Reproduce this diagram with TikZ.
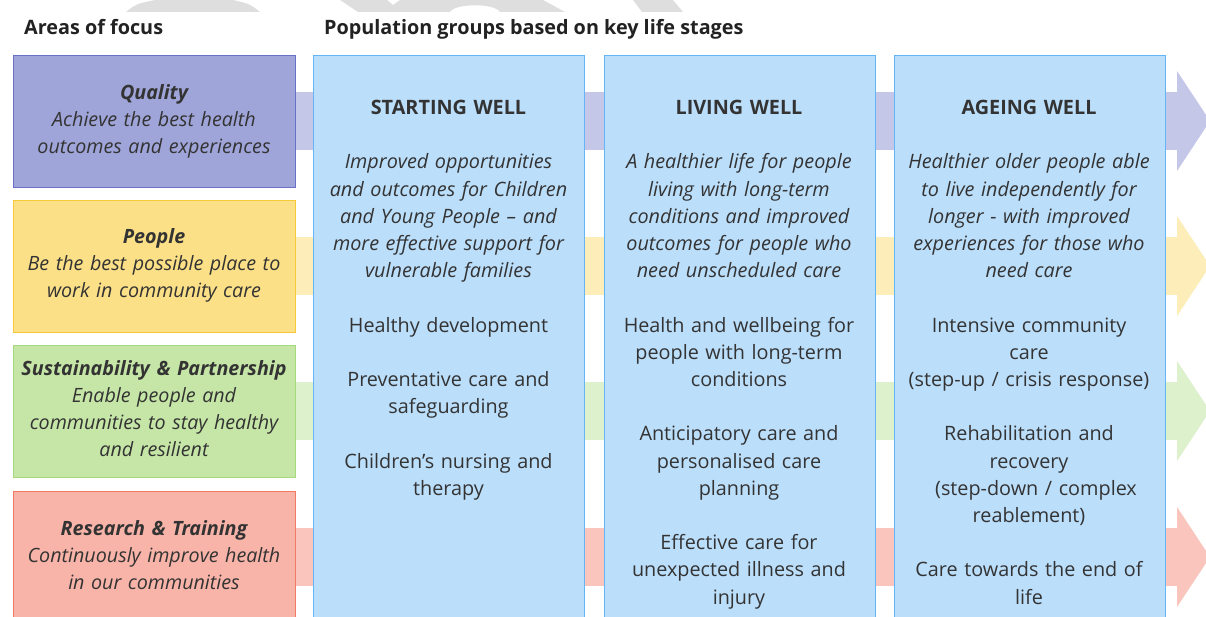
\documentclass[tikz,border=0pt]{standalone}
\usepackage{fontspec}
\setmainfont{Open Sans}
\usetikzlibrary{positioning}

\definecolor{inkdark}{HTML}{222222}
\definecolor{inkbody}{HTML}{333333}
\definecolor{wmgrey}{HTML}{DEDEDE}
\definecolor{stagefill}{HTML}{BBDEFB}
\definecolor{stageline}{HTML}{64B5F6}
% areas of focus: box fill, box border, band behind the columns
\definecolor{qualfill}{HTML}{9FA5D8}
\definecolor{qualline}{HTML}{6A70C8}
\definecolor{qualband}{HTML}{C5C7E8}
\definecolor{peopfill}{HTML}{FBE087}
\definecolor{peopline}{HTML}{F8C937}
\definecolor{peopband}{HTML}{FDEDB8}
\definecolor{sustfill}{HTML}{C6E6A7}
\definecolor{sustline}{HTML}{A4D97E}
\definecolor{sustband}{HTML}{DDF1CD}
\definecolor{resfill}{HTML}{F8B4A8}
\definecolor{resline}{HTML}{F27A62}
\definecolor{resband}{HTML}{F9C5BC}

\begin{document}
\begin{tikzpicture}[x=1pt, y=-1pt,
  focus/.style={draw, line width=1.2pt, anchor=north west, minimum width=282pt, minimum height=132pt, inner sep=0pt},
  stage/.style={draw=stageline, fill=stagefill, line width=1.3pt, anchor=north west, minimum width=271pt, minimum height=600pt, inner sep=0pt},
  head/.style={font=\fontsize{19.8}{22}\selectfont\bfseries, text=inkdark, anchor=base west, inner sep=0pt},
  focustext/.style={text width=280pt, align=center, anchor=base, inner sep=0pt, text=inkbody, font=\fontsize{19.7}{27}\selectfont\itshape},
  stagetext/.style={text width=264pt, align=center, anchor=base, inner sep=0pt, text=inkbody, font=\fontsize{19.8}{27.2}\selectfont}]

\clip (0,0) rectangle (1206,617);
\fill[white] (0,0) rectangle (1206,617);

% --- watermark remains along the top edge ---
\fill[wmgrey] (126,12) .. controls (136,4) .. (155,0) -- (233,0) .. controls (250,4) .. (260,12) -- cycle;
\fill[wmgrey] (340,0) -- (387,0) -- (393,5) -- (400,0) -- (543,0) -- (565,12) -- (500,12)
  .. controls (495,3) and (455,3) .. (450,12) -- (358,12) -- cycle;
\fill[wmgrey] (633,0) -- (673,0) -- (683,12) -- (642,12) -- cycle;

% --- bands with arrow heads, one per area of focus ---
\foreach \y/\c in {121/qualband, 266/peopband, 411/sustband, 557/resband}{
  \fill[\c] (290,\y-29) rectangle (1178,\y+29);
  \fill[\c] (1177,\y-50) -- (1210,\y) -- (1177,\y+50) -- cycle;
}

% --- headings ---
\node[head] (areas)  at (24,35)  {Areas of focus};
\node[head] (groups) at (324,35) {Population groups based on key life stages};

% --- areas of focus ---
\node[focus, draw=qualline, fill=qualfill] (quality)  at (13,55)    {};
\node[focus, draw=peopline, fill=peopfill] (people)   at (13,200)   {};
\node[focus, draw=sustline, fill=sustfill] (sustain)  at (13,344.5) {};
\node[focus, draw=resline,  fill=resfill]  (research) at (13,491)   {};

\node[focustext] (quality-txt)  at (154,99.5) {\textbf{Quality}\\Achieve the best health\\outcomes and experiences};
\node[focustext] (people-txt)   at (154,243.5) {\textbf{People}\\Be the best possible place to\\work in community care};
\node[focustext] (sustain-txt)  at (154,375) {\textbf{Sustainability \& Partnership}\\Enable people and\\communities to stay healthy\\and resilient};
\node[focustext] (research-txt) at (154,535) {\textbf{Research \& Training}\\Continuously improve health\\in our communities};

% --- life stages ---
\node[stage] (starting) at (313,55)   {};
\node[stage] (living)   at (603.5,55) {};
\node[stage] (ageing)   at (893.5,55) {};

\node[stagetext] (starting-txt) at (448.5,114.5) {%
  {\bfseries STARTING WELL}\\[27.2pt]
  {\itshape Improved opportunities\\and outcomes for Children\\and Young People – and\\more effective support for\\vulnerable families}\\[27.2pt]
  Healthy development\\[27.2pt]
  Preventative care and\\safeguarding\\[27.2pt]
  Children’s nursing and\\therapy};
\node[stagetext] (living-txt) at (739,114.5) {%
  {\bfseries LIVING WELL}\\[27.2pt]
  {\itshape A healthier life for people\\living with long-term\\conditions and improved\\outcomes for people who\\need unscheduled care}\\[27.2pt]
  Health and wellbeing for\\people with long-term\\conditions\\[27.2pt]
  Anticipatory care and\\personalised care\\planning\\[27.2pt]
  Effective care for\\unexpected illness and\\injury};
\node[stagetext] (ageing-txt) at (1029,114.5) {%
  {\bfseries AGEING WELL}\\[27.2pt]
  {\itshape Healthier older people able\\to live independently for\\longer - with improved\\experiences for those who\\need care}\\[27.2pt]
  Intensive community\\care\\(step-up / crisis response)\\[27.2pt]
  Rehabilitation and\\recovery\\\hspace*{14pt}(step-down / complex\\reablement)\\[27.2pt]
  Care towards the end of\\life};
\end{tikzpicture}
\end{document}
